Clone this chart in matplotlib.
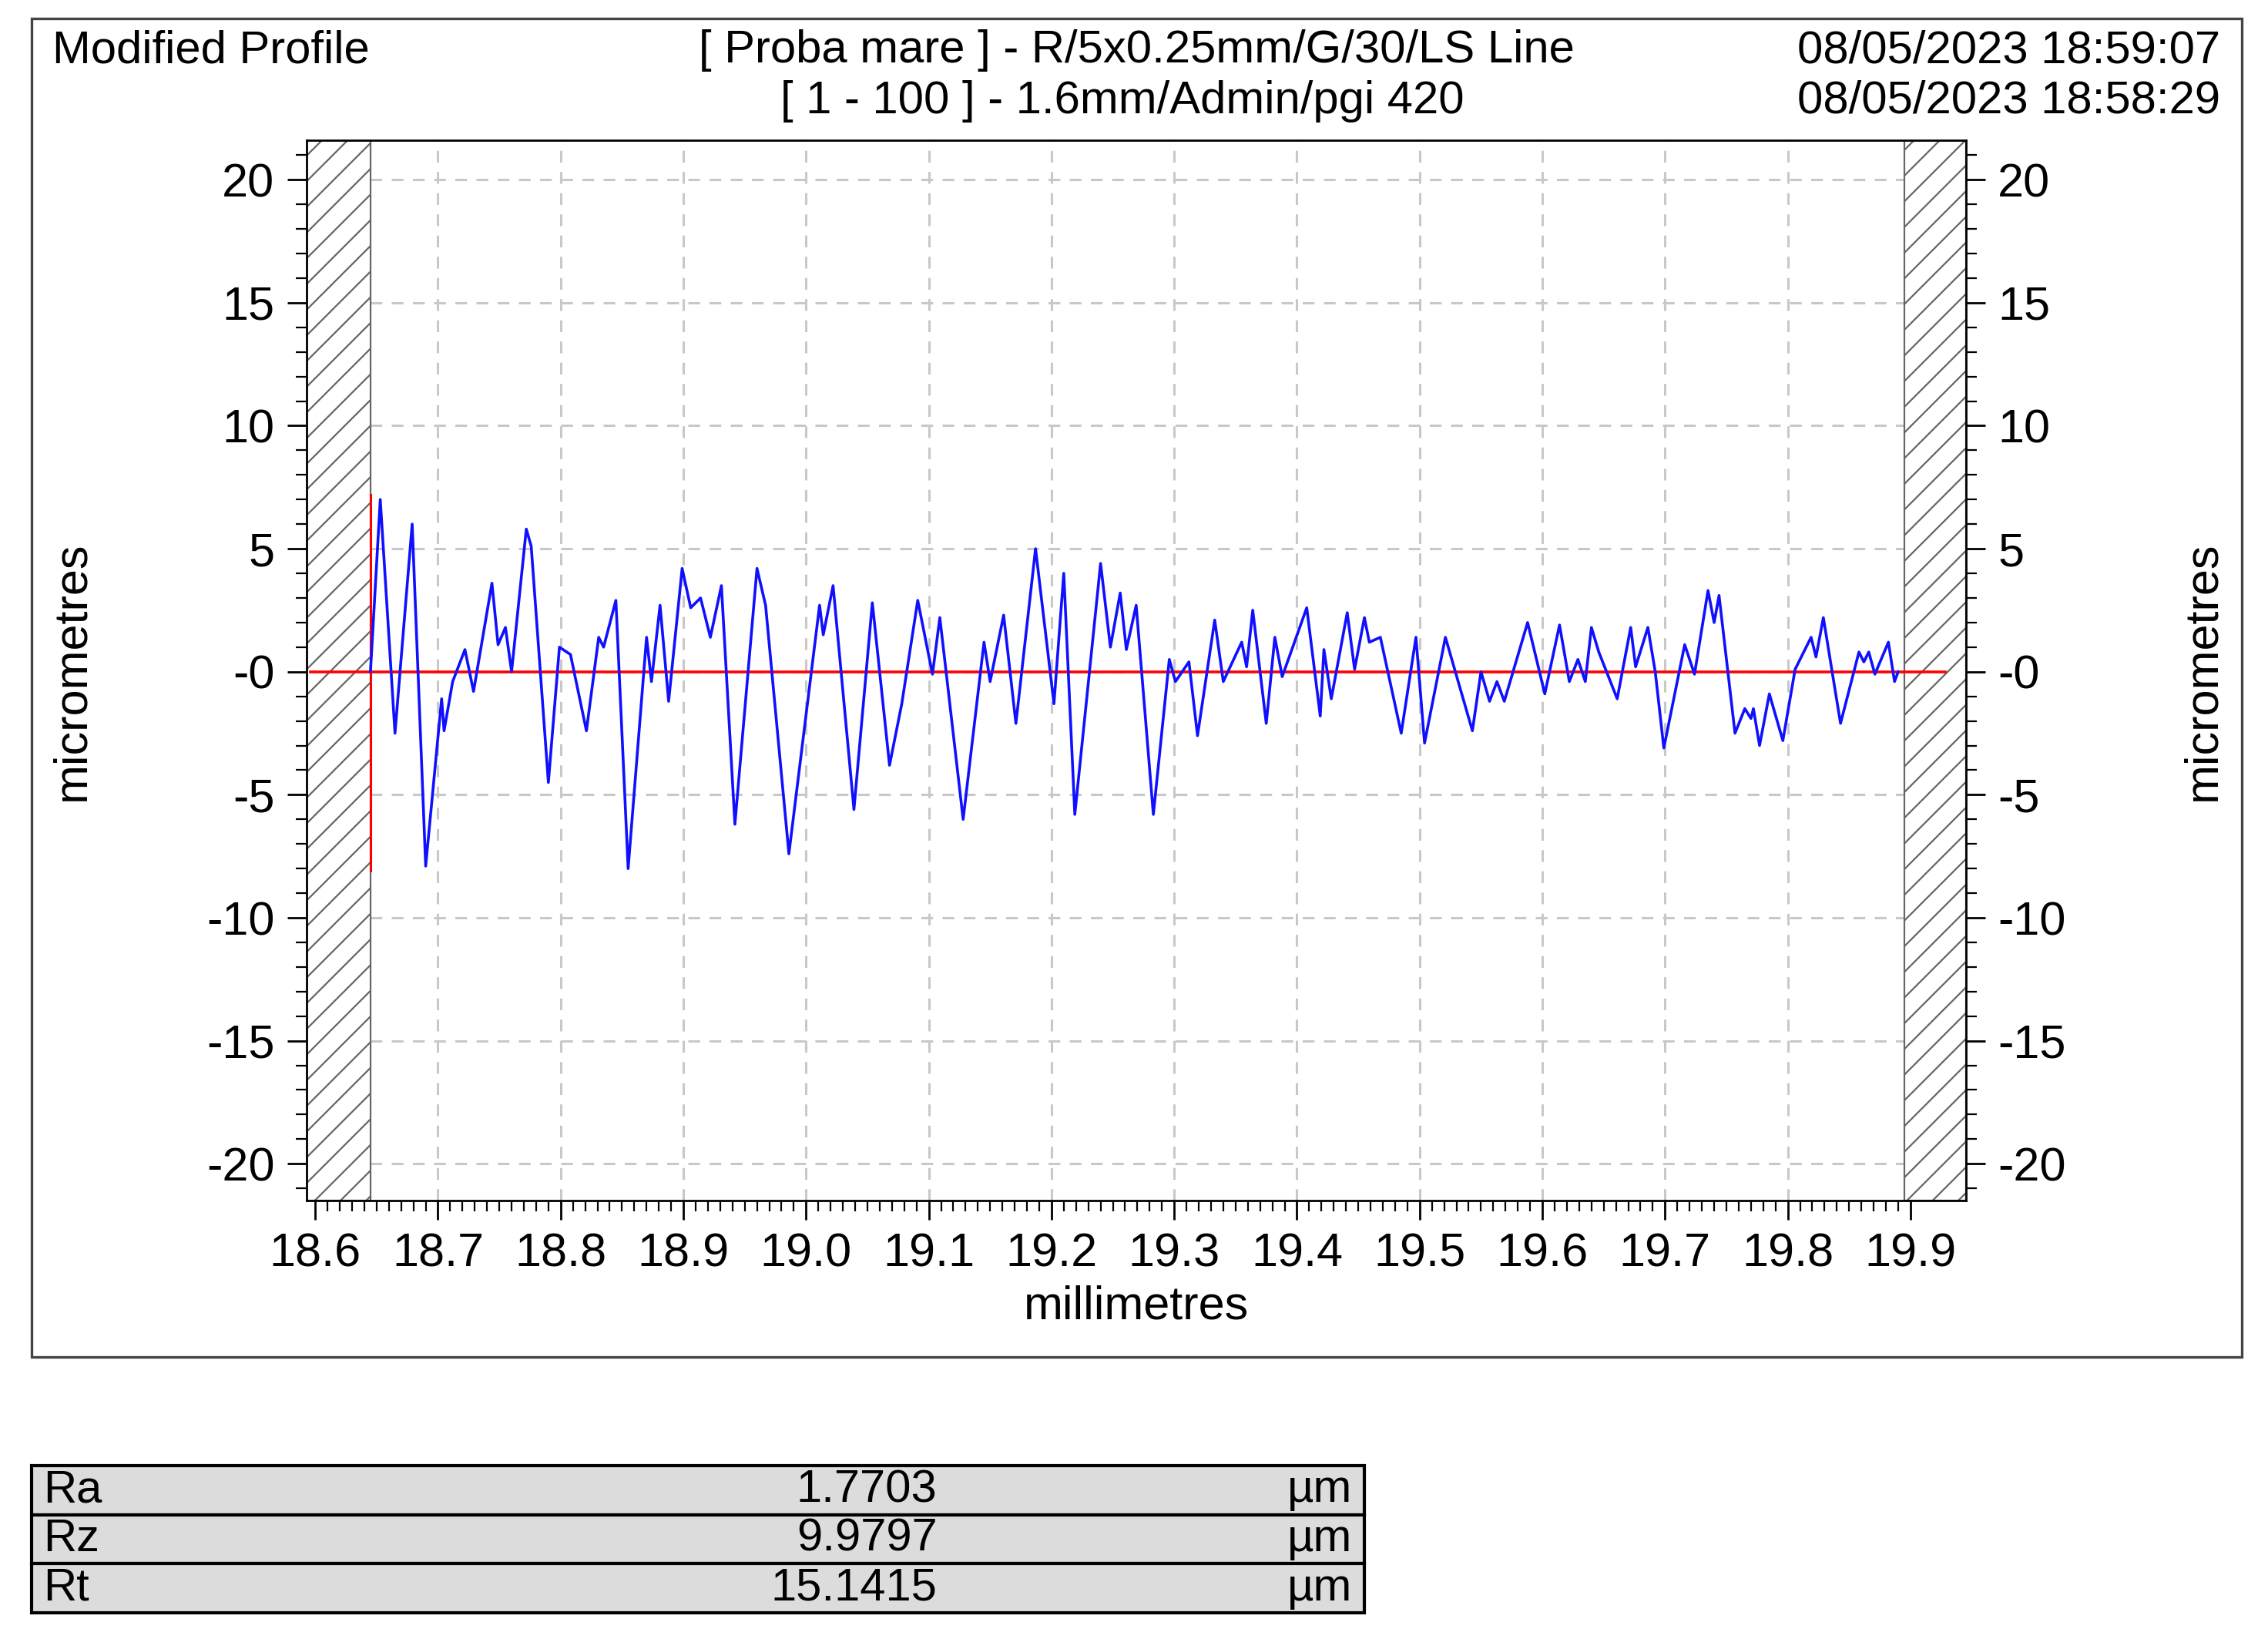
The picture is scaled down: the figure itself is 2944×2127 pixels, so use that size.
import matplotlib
matplotlib.use("Agg")
import matplotlib.pyplot as plt
from matplotlib.patches import Rectangle
import numpy as np

x_mm = [18.645,18.653,18.665,18.679,18.690,18.703,18.705,18.712,18.722,18.729,18.744,18.749,18.755,18.760,18.772,18.776,
18.790,18.799,18.808,18.821,18.831,18.835,18.845,18.855,18.870,18.874,18.881,18.888,18.899,18.906,18.914,18.922,18.931,
18.942,18.960,18.967,18.986,19.011,19.014,19.022,19.039,19.054,19.068,19.078,19.091,19.103,19.109,19.128,19.145,19.150,
19.161,19.171,19.187,19.202,19.210,19.219,19.240,19.248,19.256,19.261,19.269,19.283,19.296,19.301,19.312,19.319,19.333,
19.340,19.355,19.359,19.364,19.375,19.382,19.388,19.408,19.419,19.422,19.428,19.441,19.447,19.455,19.459,19.468,19.485,
19.497,19.504,19.521,19.543,19.550,19.557,19.563,19.569,19.588,19.602,19.614,19.622,19.629,19.635,19.640,19.646,19.661,
19.672,19.676,19.686,19.692,19.699,19.716,19.724,19.735,19.740,19.744,19.757,19.765,19.770,19.772,19.777,19.785,19.796,
19.806,19.819,19.823,19.829,19.843,19.858,19.862,19.866,19.871,19.882,19.887,19.890]
y_um = [0.0,7.0,-2.5,6.0,-7.9,-1.1,-2.4,-0.4,0.9,-0.8,3.6,1.1,1.8,0.0,5.8,5.1,
-4.5,1.0,0.7,-2.4,1.4,1.0,2.9,-8.0,1.4,-0.4,2.7,-1.2,4.2,2.6,3.0,1.4,3.5,
-6.2,4.2,2.7,-7.4,2.7,1.5,3.5,-5.6,2.8,-3.8,-1.3,2.9,-0.1,2.2,-6.0,1.2,-0.4,
2.3,-2.1,5.0,-1.3,4.0,-5.8,4.4,1.0,3.2,0.9,2.7,-5.8,0.5,-0.4,0.4,-2.6,2.1,
-0.4,1.2,0.2,2.5,-2.1,1.4,-0.2,2.6,-1.8,0.9,-1.1,2.4,0.1,2.2,1.2,1.4,-2.5,
1.4,-2.9,1.4,-2.4,0.0,-1.2,-0.4,-1.2,2.0,-0.9,1.9,-0.4,0.5,-0.4,1.8,0.8,-1.1,
1.8,0.2,1.8,0.0,-3.1,1.1,-0.1,3.3,2.0,3.1,-2.5,-1.5,-1.9,-1.5,-3.0,-0.9,-2.8,
0.1,1.4,0.6,2.2,-2.1,0.8,0.4,0.8,-0.1,1.2,-0.4,0.0]

x_ticks = [18.6,18.7,18.8,18.9,19.0,19.1,19.2,19.3,19.4,19.5,19.6,19.7,19.8,19.9]
y_ticks = [20,15,10,5,0,-5,-10,-15,-20]
y_labels = ["20","15","10","5","-0","-5","-10","-15","-20"]
params = ["Ra","Rz","Rt"]
param_vals = ["1.7703","9.9797","15.1415"]
units = ["µm","µm","µm"]

W, H = 2944, 2127
fig = plt.figure(figsize=(W/200, H/200), dpi=200)
plt.rcParams['font.family'] = ['Liberation Sans', 'DejaVu Sans']
plt.rcParams['hatch.linewidth'] = 0.8
plt.rcParams['hatch.color'] = '#666666'

def fx(px): return px/1568
def fy(py): return 1 - py/1133

fig.patches.append(Rectangle((fx(22), fy(938)), fx(1550)-fx(22), fy(13)-fy(938),
                             transform=fig.transFigure, fill=False, lw=1.2, ec='#444'))

ax = fig.add_axes([fx(212), fy(830), fx(1359)-fx(212), fy(97)-fy(830)])
xl, xr = 18.593, 19.945
yl, yh = -21.5, 21.6
ax.set_xlim(xl, xr); ax.set_ylim(yl, yh)
ax.grid(True, color='#c8c8c8', ls=(0, (5, 4)), lw=1.1)
ax.set_axisbelow(True)
for a, b in [(xl, 18.645), (19.895, xr)]:
    ax.add_patch(Rectangle((a, yl), b-a, yh-yl, facecolor='white', edgecolor='#666', hatch='//', lw=0.8, zorder=2))
ax.plot([xl+0.003, 19.928], [0, 0], color='red', lw=1.3, zorder=3)
ax.plot([18.645, 18.645], [7.2, -8.1], color='red', lw=1.1, zorder=3)
ax.plot(x_mm, y_um, color='#1010ff', lw=1.3, zorder=4)

fs = 22
ax.set_xticks(x_ticks)
ax.set_xticklabels([f"{v:.1f}" for v in x_ticks], fontsize=fs)
ax.set_xticks(np.arange(18.60, 19.9001, 0.01), minor=True)
ax.set_yticks(y_ticks)
ax.set_yticklabels(y_labels, fontsize=fs)
ax.set_yticks(np.arange(-21, 22, 1), minor=True)
ax.tick_params(axis='both', which='major', length=9, width=1, direction='out', pad=6,
               right=True, labelright=True)
ax.tick_params(axis='both', which='minor', length=5, width=0.8, direction='out', right=True)
ax.set_xlabel("millimetres", fontsize=22, labelpad=4)
fig.text(fx(50), fy(464), "micrometres", rotation=90, fontsize=22, ha='center', va='center')
fig.text(fx(1523), fy(464), "micrometres", rotation=90, fontsize=22, ha='center', va='center')
for s in ax.spines.values():
    s.set_linewidth(1.0)

ts = 21.5
fig.text(fx(36), fy(35), "Modified Profile", fontsize=ts, va='center', ha='left')
fig.text(fx(786), fy(35), "[ Proba mare ] - R/5x0.25mm/G/30/LS Line", fontsize=ts, va='center', ha='center')
fig.text(fx(776), fy(70), "[ 1 - 100 ] - 1.6mm/Admin/pgi 420", fontsize=ts, va='center', ha='center')
fig.text(fx(1535), fy(35), "08/05/2023 18:59:07", fontsize=ts, va='center', ha='right')
fig.text(fx(1535), fy(70), "08/05/2023 18:58:29", fontsize=ts, va='center', ha='right')

top, rowh = 1013, 34
for i, (p, v, u) in enumerate(zip(params, param_vals, units)):
    y0 = top + i*rowh
    fig.patches.append(Rectangle((fx(22), fy(y0+rowh)), fx(943)-fx(22), fy(y0)-fy(y0+rowh),
                                 transform=fig.transFigure, facecolor='#dcdcdc', edgecolor='black', lw=1.5))
    yc = fy(y0 + rowh/2)
    fig.text(fx(30), yc, p, fontsize=ts, va='center', ha='left')
    fig.text(fx(648), yc, v, fontsize=ts, va='center', ha='right')
    fig.text(fx(935), yc, u, fontsize=ts, va='center', ha='right')

fig.savefig("out.png", dpi=200, facecolor='white')
